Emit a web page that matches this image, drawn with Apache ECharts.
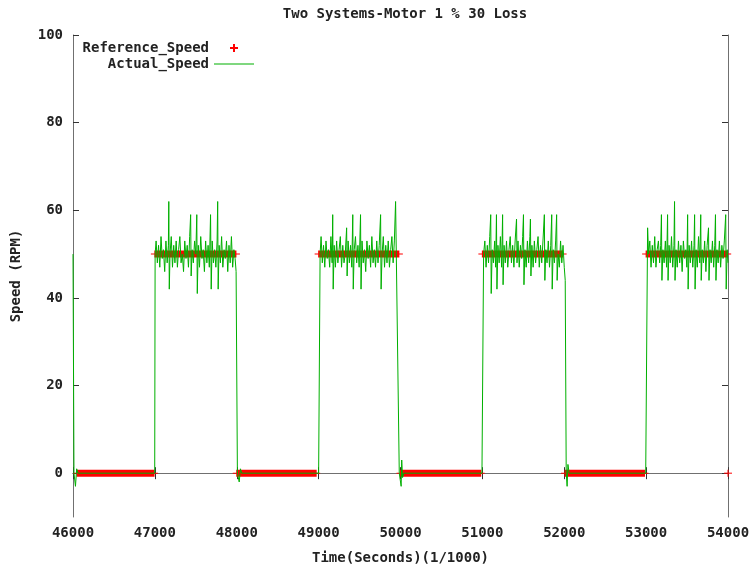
<!DOCTYPE html>
<html>
<head>
<meta charset="utf-8">
<script src="https://cdn.jsdelivr.net/npm/echarts@6/dist/echarts.min.js"></script>
<style>html,body{margin:0;padding:0;background:#fff}#c{width:750px;height:570px}</style>
</head>
<body>
<div id="c"></div>
<script>
// ---- data ----
var titleText = 'Two Systems-Motor 1 % 30 Loss';
var xName = 'Time(Seconds)(1/1000)';
var yName = 'Speed (RPM)';
var xTicks = [46000, 47000, 48000, 49000, 50000, 51000, 52000, 53000, 54000];
var yTicks = [0, 20, 40, 60, 80, 100];

// Reference_Speed: runs of densely sampled '+' marks [startTime, endTime, level]
var referenceSegments = [
  [46050, 46990, 0],
  [47000, 47990, 50],
  [48000, 48970, 0],
  [49000, 49980, 50],
  [50000, 50980, 0],
  [51000, 51980, 50],
  [52010, 52980, 0],
  [53000, 53990, 50],
  [54000, 54000, 0]
];

// Actual_Speed: [time, speed]
var actualSpeed = [
  [46000,50],[46012,0],[46030,-3],[46045,1],[46060,0],[46998,0],
  [47003,50],[47015,53],[47030,48],[47045,52],[47060,47],[47075,54],[47090,49],[47105,51],[47120,46],[47135,53],
  [47150,48],[47165,52],[47170,62],[47176,42],[47185,50],[47200,54],[47215,47],[47230,52],[47245,48],[47260,53],
  [47275,47],[47290,51],[47305,54],[47320,48],[47335,50],[47350,46],[47365,53],[47380,49],[47395,52],[47410,47],
  [47425,54],[47437,59],[47443,45],[47455,51],[47470,48],[47485,53],[47500,50],[47512,59],[47518,41],[47530,52],
  [47545,47],[47560,54],[47575,49],[47590,51],[47605,46],[47620,53],[47635,48],[47650,52],[47665,47],[47680,59],
  [47688,42],[47700,53],[47715,48],[47730,51],[47745,47],[47760,53],[47767,62],[47773,42],[47785,52],[47800,48],
  [47815,54],[47830,47],[47845,51],[47860,49],[47875,53],[47890,46],[47905,52],[47920,48],[47935,54],[47950,47],
  [47965,51],[47980,49],[47992,46],[48008,0],[48030,-2],[48045,1],[48060,0],[49000,0],
  [49018,50],[49030,54],[49045,48],[49060,52],[49075,47],[49090,53],[49105,49],[49120,51],[49135,47],[49150,54],
  [49165,48],[49172,59],[49178,42],[49190,52],[49205,47],[49220,53],[49235,48],[49250,51],[49265,54],[49280,47],
  [49295,52],[49310,48],[49325,50],[49342,56],[49348,45],[49360,53],[49375,48],[49390,52],[49405,47],[49417,59],
  [49423,42],[49435,51],[49450,54],[49465,48],[49480,52],[49495,47],[49512,59],[49518,42],[49530,53],[49545,48],
  [49560,51],[49575,46],[49590,53],[49605,49],[49620,52],[49635,47],[49650,54],[49665,48],[49680,51],[49695,47],
  [49710,53],[49725,48],[49740,52],[49757,59],[49763,42],[49775,50],[49790,54],[49805,47],[49820,52],[49835,48],
  [49850,53],[49865,47],[49880,51],[49895,54],[49910,48],[49925,53],[49940,62],[49985,0],[50008,-3],[50015,3],
  [50025,-1],[50040,0],[50995,0],
  [51015,50],[51030,53],[51045,47],[51060,52],[51075,48],[51090,54],[51102,59],[51108,41],[51120,51],[51135,48],
  [51150,53],[51162,47],[51172,59],[51178,42],[51190,52],[51205,48],[51220,54],[51235,47],[51247,59],[51253,43],
  [51265,52],[51280,48],[51295,53],[51310,47],[51325,51],[51340,54],[51355,48],[51370,52],[51385,47],[51400,53],
  [51417,58],[51423,48],[51435,53],[51450,47],[51465,52],[51480,49],[51492,54],[51502,59],[51508,43],[51520,51],
  [51535,47],[51550,53],[51565,48],[51580,54],[51587,58],[51593,45],[51605,52],[51620,47],[51635,53],[51650,48],
  [51665,51],[51680,54],[51695,47],[51710,52],[51725,48],[51740,53],[51757,59],[51763,44],[51775,51],[51790,48],
  [51805,53],[51820,47],[51835,52],[51847,59],[51853,42],[51865,51],[51880,48],[51895,53],[51907,59],[51913,44],
  [51925,50],[51940,47],[51955,53],[51970,48],[51985,52],[52000,47],[52012,44],[52024,0],[52035,-3],[52045,2],
  [52060,0],[52995,0],
  [53018,56],[53030,50],[53045,53],[53060,47],[53075,52],[53090,48],[53105,54],[53120,47],[53135,51],[53150,53],
  [53165,48],[53178,52],[53187,59],[53193,44],[53205,51],[53220,48],[53235,53],[53250,47],[53262,59],[53268,44],
  [53280,52],[53295,48],[53310,54],[53325,47],[53340,52],[53347,62],[53353,44],[53365,51],[53380,47],[53395,53],
  [53410,48],[53425,52],[53440,46],[53455,53],[53470,49],[53485,51],[53497,47],[53507,59],[53513,42],[53525,52],
  [53540,48],[53555,53],[53570,47],[53585,52],[53592,59],[53598,42],[53610,51],[53625,47],[53640,54],[53655,48],
  [53667,59],[53673,44],[53685,51],[53700,48],[53715,53],[53730,46],[53745,52],[53762,56],[53768,44],[53780,51],
  [53795,48],[53810,53],[53825,47],[53838,52],[53847,59],[53853,44],[53865,51],[53880,48],[53895,53],[53910,47],
  [53925,52],[53940,49],[53955,53],[53972,59],[53978,42],[53990,51],[54000,48]
];

// ---- chart ----
var FONT = 'DejaVu Sans Mono';
var txt = {fontFamily: FONT, fontSize: 14, fontWeight: 'bold', color: '#222'};
var frame = {lineStyle: {color: '#707070', width: 1}};
var tick = {inside: true, length: 6, lineStyle: {color: '#333', width: 1}};
var plusIcon = 'path://M3,0H5V3H8V5H5V8H3V5H0V3H3Z';
var lineIcon = 'path://M0,0H40V1.2H0Z';

var chart = echarts.init(document.getElementById('c'), null, {renderer: 'canvas'});
chart.setOption({
  animation: false,
  backgroundColor: '#fff',
  title: {text: titleText, left: 400, textAlign: 'center', top: 2, textStyle: txt},
  grid: {left: 73, right: 22, top: 35, bottom: 53, containLabel: false, outerBoundsMode: 'none'},
  legend: {
    orient: 'vertical', align: 'right', right: 496, top: 41, padding: 0,
    itemWidth: 40, itemHeight: 8, itemGap: 2, symbolKeepAspect: true,
    textStyle: txt,
    data: [
      {name: 'Reference_Speed', icon: plusIcon, itemStyle: {color: '#ff0000'}},
      {name: 'Actual_Speed', icon: lineIcon, itemStyle: {color: '#00b000'}}
    ]
  },
  xAxis: [{
    type: 'value', min: xTicks[0], max: xTicks[xTicks.length - 1], interval: 1000,
    name: xName, nameLocation: 'middle', nameGap: 34, nameTextStyle: txt,
    axisLine: frame, axisTick: tick, splitLine: {show: false},
    axisLabel: Object.assign({margin: 9, formatter: function (v) { return String(v); }}, txt)
  }, {
    type: 'value', position: 'top', min: xTicks[0], max: xTicks[xTicks.length - 1], interval: 1000,
    axisLine: frame, axisTick: tick, axisLabel: {show: false}, splitLine: {show: false}
  }],
  yAxis: [{
    type: 'value', min: -10, max: 100,
    name: yName, nameLocation: 'middle', nameGap: 50, nameRotate: 90, nameTextStyle: txt,
    axisLine: frame, axisTick: Object.assign({customValues: yTicks}, tick), splitLine: {show: false},
    axisLabel: Object.assign({margin: 10, customValues: yTicks}, txt)
  }, {
    type: 'value', position: 'right', min: -10, max: 100,
    axisLine: frame, axisTick: Object.assign({customValues: yTicks}, tick),
    axisLabel: {show: false, customValues: yTicks}, splitLine: {show: false}
  }],
  series: [{
    name: 'Reference_Speed', type: 'custom', xAxisIndex: 0, yAxisIndex: 0,
    itemStyle: {color: '#ff0000'},
    encode: {x: [0, 1], y: 2},
    data: referenceSegments,
    clip: false,
    renderItem: function (params, api) {
      var p0 = api.coord([api.value(0), api.value(2)]);
      var p1 = api.coord([api.value(1), api.value(2)]);
      var h = 3.5;
      return {type: 'group', children: [
        {type: 'rect', shape: {x: p0[0] - 0.5, y: p0[1] - h, width: p1[0] - p0[0] + 1, height: 2 * h}, style: {fill: '#ff0000'}},
        {type: 'rect', shape: {x: p0[0] - 4, y: p0[1] - 0.5, width: p1[0] - p0[0] + 8, height: 1}, style: {fill: '#ff0000'}}
      ]};
    }
  }, {
    name: 'Actual_Speed', type: 'line', xAxisIndex: 0, yAxisIndex: 0,
    symbol: 'none', showSymbol: false,
    lineStyle: {color: '#00b000', width: 1},
    itemStyle: {color: '#00b000'},
    data: actualSpeed
  }]
});
</script>
</body>
</html>
